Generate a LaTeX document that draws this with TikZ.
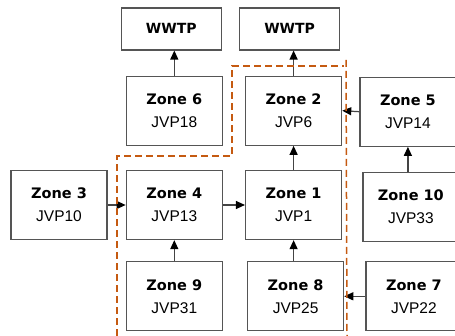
\documentclass[tikz,border=0pt]{standalone}
\usepackage{fontspec}
\setmainfont{Liberation Sans}
\newfontfamily\zonefont{DejaVu Sans}
\usetikzlibrary{arrows.meta,positioning}
\definecolor{boxgray}{HTML}{555555}
\definecolor{zoneorange}{HTML}{C55A11}
\tikzset{
  zone/.style={draw=boxgray, line width=1.3pt, minimum width=96pt, minimum height=69pt,
    align=center, inner sep=0pt, font=\fontsize{15.5}{23}\selectfont},
  plant/.style={draw=boxgray, line width=1.3pt, minimum width=100pt, minimum height=42pt,
    inner sep=0pt, font=\zonefont\bfseries\fontsize{14}{16}\selectfont},
  flow/.style={-{Triangle[length=9pt,width=8pt,black]}, line width=1.2pt, draw=boxgray!80!black},
  boundary/.style={draw=zoneorange, line width=1.5pt, dash pattern=on 7pt off 4pt},
}
\newcommand{\zn}[1]{{\zonefont\bfseries\fontsize{14.5}{23}\selectfont Zone #1}}

\begin{document}
\begin{tikzpicture}[x=1pt, y=-1pt]
\useasboundingbox (0,0) rectangle (455,336);
% middle row
\node[zone] (z3) at (59,205) {\zn{3}\\JVP10};
\node[zone, right=18pt of z3] (z4) {\zn{4}\\JVP13};
\node[zone, right=22pt of z4] (z1) {\zn{1}\\JVP1};
\node[zone, right=20pt of z1, yshift=-2pt] (z10) {\zn{10}\\JVP33};
% bottom row
\node[zone, below=21pt of z4] (z9) {\zn{9}\\JVP31};
\node[zone, below=21pt of z1, xshift=2pt] (z8) {\zn{8}\\JVP25};
\node[zone, right=21pt of z8] (z7) {\zn{7}\\JVP22};
% upper row and treatment plants
\node[zone, above=24pt of z4] (z6) {\zn{6}\\JVP18};
\node[zone, above=24pt of z1] (z2) {\zn{2}\\JVP6};
\node[zone, above=25pt of z10, xshift=-3pt] (z5) {\zn{5}\\JVP14};
\node[plant, above=25pt of z6, xshift=-3pt] (w6) {WWTP};
\node[plant, above=25pt of z2, xshift=-4pt] (w2) {WWTP};

\draw[flow] (z6.north) -- (z6.north |- w6.south);
\draw[flow] (z2.north) -- (z2.north |- w2.south);
\draw[flow] (z5.west) -- (z2.east);
\draw[flow] (z5.south |- z10.north) -- (z5.south);
\draw[flow] (z1.north) -- (z2.south);
\draw[flow] (z3) -- (z4);
\draw[flow] (z4) -- (z1);
\draw[flow] (z9) -- (z4);
\draw[flow] (z1.south |- z8.north) -- (z1.south);
\draw[flow] (z7) -- (z8);

% service area boundary
\draw[boundary] (117,336) -- (117,156) -- (232,156) -- (232,66) -- (344,66);
\draw[boundary] (346,60) -- (347,336);
\end{tikzpicture}
\end{document}
